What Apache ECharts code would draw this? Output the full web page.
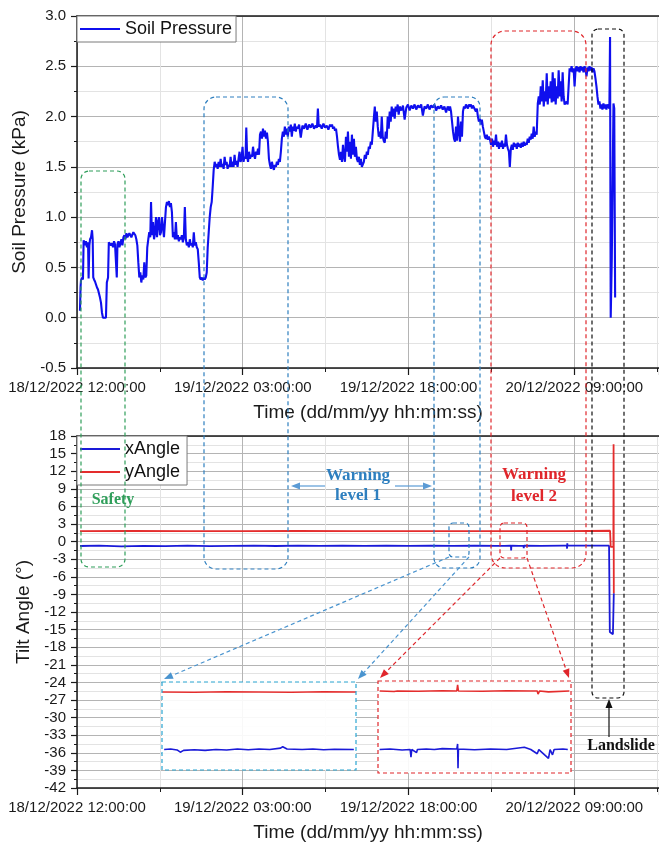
<!DOCTYPE html>
<html><head><meta charset="utf-8">
<script src="https://cdn.jsdelivr.net/npm/echarts@6/dist/echarts.min.js"></script>
<style>html,body{margin:0;padding:0;background:#fff}#c{width:659px;height:848px}</style>
</head><body><div id="c"></div>
<script>
// ---------------- DATA (time in hours since 18/12/2022 12:00:00) ----------------
const timeTickLabels = ['18/12/2022 12:00:00','19/12/2022 03:00:00','19/12/2022 18:00:00','20/12/2022 09:00:00'];
const timeTickStepHours = 15;
const timeAxisMaxHours = 52.67;

const soilPressure = [
 [0.27,0.07],[0.32,0.30],[0.36,0.37],[0.45,0.40],[0.54,0.38],[0.60,0.77],[0.72,0.72],[0.81,0.76],[0.90,0.70],[1.00,0.75],[1.05,0.39],[1.12,0.72],[1.18,0.78],[1.27,0.80],[1.36,0.87],[1.42,0.78],[1.47,0.40],[1.54,0.38],[1.63,0.36],[1.72,0.33],[1.81,0.30],[1.90,0.28],[1.99,0.24],[2.08,0.20],[2.17,0.15],[2.26,0.05],[2.35,0.0],[2.44,0.0],[2.53,0.01],[2.62,0.0],[2.70,0.35],[2.81,0.40],[2.88,0.75],
 [2.99,0.76],[3.08,0.72],[3.17,0.74],[3.26,0.70],[3.35,0.76],[3.44,0.73],[3.53,0.72],[3.60,0.40],[3.66,0.73],[3.75,0.76],[3.84,0.70],[3.93,0.74],[4.02,0.78],[4.11,0.72],[4.20,0.80],[4.29,0.82],[4.38,0.78],[4.47,0.84],[4.56,0.80],[4.74,0.84],[4.92,0.80],[5.10,0.85],[5.28,0.82],[5.37,0.78],[5.46,0.72],[5.55,0.55],[5.64,0.40],[5.73,0.45],[5.82,0.35],[5.91,0.42],[6.00,0.38],[6.09,0.55],[6.18,0.40],[6.27,0.42],[6.36,0.70],[6.45,0.78],[6.54,0.85],
 [6.63,0.80],[6.70,1.15],[6.78,0.82],[6.88,0.95],[6.97,0.78],[7.06,0.85],[7.15,1.00],[7.24,0.80],[7.33,0.95],[7.42,1.00],[7.51,0.82],[7.60,0.85],[7.69,1.00],[7.78,0.90],[7.87,0.80],[7.96,0.95],[8.05,1.10],[8.14,1.15],[8.23,1.12],[8.32,1.16],[8.41,1.10],[8.50,1.14],[8.59,1.05],[8.68,0.80],[8.77,0.85],[8.86,0.78],[8.95,0.95],[9.04,0.78],[9.13,0.82],[9.22,0.76],[9.31,0.80],[9.40,0.78],[9.49,0.82],[9.58,0.75],[9.67,0.80],[9.76,1.10],[9.85,0.78],[9.94,0.72],[10.03,0.75],[10.12,0.70],[10.21,0.78],[10.30,0.72],[10.39,0.74],[10.48,0.70],[10.57,0.85],[10.66,0.72],[10.75,0.75],[10.84,0.70],[10.93,0.68],[11.02,0.55],[11.11,0.40],[11.20,0.38],[11.29,0.40],[11.38,0.37],[11.47,0.40],[11.56,0.38],[11.65,0.40],[11.74,0.45],[11.83,0.70],[11.92,0.85],[12.01,1.00],[12.10,1.10],[12.19,1.15],[12.28,1.30],[12.37,1.47],
 [12.46,1.55],[12.55,1.50],[12.64,1.53],[12.73,1.48],[12.82,1.55],[12.91,1.50],[13.00,1.58],[13.09,1.50],[13.18,1.53],[13.27,1.48],[13.36,1.60],[13.45,1.52],[13.54,1.55],[13.63,1.48],[13.72,1.52],[13.81,1.50],[13.90,1.60],[13.99,1.50],[14.08,1.55],[14.17,1.50],[14.26,1.62],[14.35,1.52],[14.44,1.56],[14.53,1.50],[14.62,1.58],[14.71,1.65],[14.80,1.55],[14.89,1.58],[14.98,1.70],[15.07,1.55],[15.16,1.60],[15.25,1.58],[15.32,1.89],[15.40,1.60],[15.48,1.55],[15.57,1.65],[15.66,1.58],[15.75,1.62],[15.84,1.60],[15.93,1.70],[16.02,1.62],[16.11,1.58],[16.20,1.65],[16.29,1.62],[16.38,1.68],[16.47,1.62],[16.56,1.82],[16.65,1.85],[16.74,1.78],[16.83,1.88],[16.92,1.80],[17.01,1.86],[17.10,1.78],[17.19,1.84],[17.28,1.75],[17.37,1.58],[17.46,1.52],[17.55,1.48],[17.64,1.55],[17.73,1.50],[17.82,1.47],[17.91,1.52],[18.00,1.50],[18.09,1.55],[18.18,1.52],[18.27,1.58],[18.36,1.55],[18.45,1.65],[18.54,1.78],[18.63,1.85],[18.72,1.80],
 [18.81,1.90],[18.90,1.82],[18.99,1.88],[19.08,1.80],[19.17,1.90],[19.26,1.85],[19.35,1.92],[19.44,1.80],[19.53,1.90],[19.62,1.86],[19.71,1.93],[19.80,1.85],[19.89,1.90],[19.98,1.88],[20.10,1.92],[20.25,1.79],[20.40,1.91],[20.55,1.88],[20.70,1.93],[20.85,1.87],[21.00,1.92],[21.15,1.89],[21.30,1.93],[21.45,1.88],[21.60,1.91],[21.72,1.89],[21.80,2.08],[21.88,1.90],[22.00,1.92],[22.15,1.88],[22.30,1.93],[22.45,1.89],[22.60,1.91],[22.75,1.87],[22.90,1.92],[22.99,1.90],[23.08,1.92],[23.17,1.88],[23.26,1.90],[23.35,1.86],[23.44,1.88],[23.53,1.80],
 [23.62,1.70],[23.71,1.62],[23.80,1.57],[23.89,1.65],[23.98,1.55],[24.07,1.72],[24.16,1.60],[24.25,1.55],[24.34,1.80],[24.43,1.65],[24.52,1.85],[24.61,1.60],[24.70,1.75],[24.79,1.58],[24.88,1.82],[24.97,1.62],[25.06,1.78],[25.15,1.60],[25.24,1.70],[25.33,1.58],[25.42,1.55],[25.51,1.60],[25.60,1.52],[25.69,1.58],[25.78,1.50],[25.87,1.49],[25.96,1.55],[26.05,1.62],[26.14,1.58],[26.23,1.65],[26.32,1.62],[26.41,1.70],[26.50,1.68],[26.59,1.75],[26.68,1.72],[26.77,1.85],[26.86,1.98],[26.95,2.10],[27.04,1.95],[27.13,2.05],[27.22,1.90],[27.31,1.80],[27.40,1.85],[27.49,1.78],[27.58,2.00],[27.67,1.80],[27.76,1.76],[27.85,1.74],[27.94,1.85],[28.03,1.78],[28.12,2.00],[28.21,1.88],[28.30,2.05],[28.39,1.95],[28.48,2.10],[28.57,2.00],[28.66,2.08],[28.75,1.98],[28.84,2.10],[28.93,2.05],[29.02,2.12],[29.11,2.02],[29.20,2.10],
 [29.35,2.06],[29.50,2.11],[29.65,1.97],[29.80,2.09],[29.95,2.12],[30.10,2.06],[30.25,2.11],[30.40,2.08],[30.55,2.12],[30.70,2.07],[30.85,2.11],[31.00,2.09],[31.15,2.12],[31.30,2.01],[31.45,2.10],[31.60,2.08],[31.75,2.12],[31.90,2.07],[32.05,2.11],[32.20,2.09],[32.35,2.12],[32.50,2.06],[32.65,2.10],[32.80,2.08],[32.95,2.11],[33.10,2.07],[33.25,2.10],[33.40,2.04],[33.55,2.10],[33.70,2.06],
 [33.76,2.10],[33.85,2.05],[33.94,1.95],[34.03,1.85],[34.12,1.78],[34.21,1.75],[34.30,1.90],[34.39,1.76],[34.48,2.00],[34.57,1.85],[34.66,1.75],[34.75,1.95],[34.84,1.80],[34.93,2.05],[35.02,2.10],[35.11,2.08],[35.20,2.12],[35.29,2.10],[35.38,2.08],[35.47,2.12],[35.56,2.10],[35.65,2.12],[35.74,2.08],[35.83,2.11],[35.92,2.09],[36.01,2.10],[36.10,2.05],[36.19,2.08],[36.28,2.00],[36.37,1.95],[36.46,1.98],[36.55,1.92],[36.64,1.97],[36.73,1.90],[36.82,1.85],[36.91,1.80],[37.00,1.78],[37.09,1.82],[37.18,1.77],[37.27,1.80],
 [37.38,1.77],[37.47,1.72],[37.56,1.78],[37.65,1.70],[37.74,1.76],[37.83,1.72],[37.92,1.82],[38.01,1.70],[38.10,1.75],[38.19,1.68],[38.28,1.74],[38.37,1.70],[38.46,1.76],[38.55,1.68],[38.64,1.73],[38.73,1.70],[38.82,1.82],[38.91,1.72],[39.00,1.68],[39.09,1.65],[39.17,1.50],[39.26,1.68],[39.35,1.72],[39.44,1.67],[39.53,1.74],[39.62,1.70],[39.71,1.73],[39.80,1.68],[39.89,1.74],[39.98,1.70],[40.07,1.73],[40.16,1.69],[40.25,1.74],[40.34,1.70],[40.43,1.75],[40.52,1.71],[40.61,1.74],[40.70,1.72],[40.79,1.78],[40.88,1.74],[40.97,1.80],[41.06,1.77],[41.15,1.83],[41.24,1.78],[41.33,1.90],[41.42,1.80],[41.51,1.85],[41.60,1.82],
 [41.70,2.13],[41.79,2.20],[41.88,2.12],[41.97,2.30],[42.06,2.15],[42.15,2.36],[42.24,2.10],[42.33,2.25],[42.42,2.15],[42.51,2.43],[42.60,2.12],[42.69,2.30],[42.78,2.18],[42.87,2.35],[42.96,2.14],[43.05,2.44],[43.14,2.15],[43.23,2.38],[43.32,2.12],[43.41,2.30],[43.50,2.18],[43.59,2.46],[43.68,2.20],[43.77,2.35],[43.86,2.15],[43.95,2.44],[44.04,2.20],[44.13,2.12],[44.22,2.13],[44.31,2.15],[44.40,2.12],[44.49,2.30],[44.58,2.48],
 [44.67,2.45],[44.76,2.50],[44.85,2.44],[44.94,2.48],[45.03,2.30],[45.12,2.47],[45.21,2.50],[45.30,2.45],[45.39,2.49],[45.48,2.44],[45.57,2.50],[45.66,2.46],[45.75,2.49],[45.84,2.44],[45.93,2.50],[46.02,2.47],[46.11,2.40],[46.20,2.49],[46.29,2.45],[46.38,2.50],[46.47,2.46],[46.56,2.49],[46.65,2.44],[46.74,2.48],[46.83,2.45],[46.92,2.38],[47.01,2.30],[47.10,2.20],[47.19,2.12],
 [47.28,2.15],[47.37,2.08],[47.46,2.12],[47.55,2.07],[47.64,2.13],[47.73,2.08],[47.82,2.12],[47.91,2.07],[48.00,2.12],[48.09,2.10],[48.18,2.08],[48.24,2.79],[48.30,0.0],[48.40,0.6],[48.55,2.13],[48.62,2.08],[48.70,0.20]
];

const xAngle = [
 [0.27,-0.75],[2,-0.7],[4,-0.8],[6,-0.72],[8,-0.78],[10,-0.7],[12,-0.76],[14,-0.72],[16,-0.7],[18,-0.75],[20,-0.7],[22,-0.74],[24,-0.7],[26,-0.72],[28,-0.7],[30,-0.73],[32,-0.7],[34,-0.72],[36,-0.7],[38,-0.72],[38.68,-0.72],[38.71,-1.05],[38.74,-0.7],[39.27,-0.7],[39.29,-1.5],[39.31,-0.7],[40,-0.72],[40.41,-0.72],[40.43,-1.1],[40.45,-0.7],[42,-0.72],[44,-0.7],[44.33,-0.7],[44.35,-1.2],[44.37,-0.3],[44.39,-0.7],[46,-0.7],[48.15,-0.7],[48.22,-15.4],[48.50,-15.8],[48.58,-8.8]
];
const yAngle = [
 [0.27,1.8],[5,1.82],[10,1.78],[15,1.8],[20,1.82],[25,1.8],[30,1.8],[35,1.79],[39.28,1.8],[39.29,2.1],[39.30,1.8],[40.28,1.8],[40.29,1.6],[40.30,1.8],[44.33,1.8],[44.35,2.1],[44.37,1.8],[48.24,1.85],[48.30,-0.9],[48.54,-0.9],[48.56,16.6],[48.58,-8.8]
];

// zoomed details (insets)
const inset1Window = [33.7, 35.5];
const inset1Y = [
 [33.7,1.8],[34.0,1.79],[34.3,1.81],[34.6,1.8],[34.9,1.79],[35.2,1.81],[35.5,1.8]
];
const inset1X = [
 [33.72,-0.72],[33.78,-0.70],[33.84,-0.74],[33.87,-0.84],[33.90,-0.76],[34.0,-0.73],[34.1,-0.76],[34.2,-0.72],[34.3,-0.74],[34.4,-0.70],[34.5,-0.73],[34.6,-0.70],[34.7,-0.72],[34.8,-0.66],[34.82,-0.60],[34.86,-0.70],[35.0,-0.72],[35.1,-0.70],[35.2,-0.73],[35.3,-0.71],[35.48,-0.72]
];
const inset2Window = [38.3, 40.7];
const inset2Y = [
 [38.32,1.8],[38.5,1.78],[38.52,1.74],[38.54,1.8],[38.8,1.79],[39.1,1.81],[39.28,1.8],[39.29,2.06],[39.30,1.8],[39.6,1.79],[39.9,1.81],[40.2,1.8],[40.28,1.8],[40.29,1.67],[40.30,1.75],[40.31,1.8],[40.42,1.76],[40.44,1.8],[40.68,1.8]
];
const inset2X = [
 [38.32,-0.72],[38.45,-0.70],[38.6,-0.74],[38.70,-0.72],[38.71,-1.05],[38.72,-0.72],[38.78,-0.85],[38.79,-0.72],[38.9,-0.70],[39.0,-0.72],[39.1,-0.68],[39.28,-0.70],[39.29,-0.48],[39.295,-1.53],[39.30,-0.70],[39.5,-0.73],[39.7,-0.70],[39.9,-0.72],[40.12,-0.62],[40.14,-0.70],[40.2,-0.72],[40.28,-0.90],[40.30,-0.72],[40.42,-1.10],[40.44,-0.72],[40.47,-0.95],[40.49,-0.72],[40.6,-0.70],[40.66,-0.72]
];

// ---------------- CHART ----------------
const FONT = "'Liberation Sans', Arial, sans-serif";
const SERIF = "'Liberation Serif', 'Times New Roman', serif";
const AX = '#1a1a1a';
const MAJ = '#b4b4b4', MIN = '#e3e3e3';
const BLUE = '#0f0fee', XBLUE = '#1a1ad8', RED = '#e42d2d';

function timeLabel(v){
  const i = Math.round(v / timeTickStepHours);
  if (Math.abs(v - i*timeTickStepHours) > 1e-6) return '';
  return timeTickLabels[i] || '';
}
function mainX(gridIndex){
  return {
    type:'value', gridIndex, min:0, max:timeAxisMaxHours, interval:timeTickStepHours, position:'bottom',
    axisLine:{show:true, onZero:false, lineStyle:{color:AX, width:1.5}},
    axisTick:{show:true, inside:false, length:7, lineStyle:{color:AX, width:1.2}},
    minorTick:{show:true, splitNumber:2, length:4, lineStyle:{color:AX, width:1}},
    splitLine:{show:true, lineStyle:{color:MAJ, width:1}},
    minorSplitLine:{show:true, lineStyle:{color:MIN, width:1}},
    axisLabel:{formatter:timeLabel, margin:12, fontSize:15, color:AX, fontFamily:FONT, showMaxLabel:false, showMinLabel:true},
    name:'Time (dd/mm/yy hh:mm:ss)', nameLocation:'middle', nameGap:35,
    nameTextStyle:{fontSize:19, color:AX, fontFamily:FONT}
  };
}
function frameX(gridIndex){
  return {type:'value', gridIndex, position:'top', min:0, max:timeAxisMaxHours,
    axisLine:{show:true, onZero:false, lineStyle:{color:AX, width:1.5}},
    axisTick:{show:false}, axisLabel:{show:false}, splitLine:{show:false}};
}
function mainY(gridIndex, min, max, interval, name, fmt){
  return {
    type:'value', gridIndex, min, max, interval,
    axisLine:{show:true, onZero:false, lineStyle:{color:AX, width:1.5}},
    axisTick:{show:true, inside:false, length:6, lineStyle:{color:AX, width:1.2}},
    minorTick:{show:true, splitNumber:2, length:3, lineStyle:{color:AX, width:1}},
    splitLine:{show:true, lineStyle:{color:MAJ, width:1}},
    minorSplitLine:{show:true, lineStyle:{color:MIN, width:1}},
    axisLabel:{formatter:fmt, margin:11, fontSize:15, color:AX, fontFamily:FONT},
    name, nameLocation:'middle', nameGap:42, nameRotate:90,
    nameTextStyle:{fontSize:19, color:AX, fontFamily:FONT}
  };
}
function hiddenX(gridIndex, w){ return {type:'value', gridIndex, min:w[0], max:w[1], show:false}; }
function hiddenY(gridIndex, min, max){ return {type:'value', gridIndex, min, max, show:false}; }

const DASH = [4,3];
function rrect(x,y,w,h,r,color){
  return {type:'rect', z:100, silent:true, shape:{x,y,width:w,height:h,r},
    style:{fill:null, stroke:color, lineWidth:1.2, lineDash:DASH}};
}
function arrow(x1,y1,x2,y2,color,dashed){
  const a = Math.atan2(y2-y1, x2-x1), L = 9, W = 3.5;
  const bx = x2 - L*Math.cos(a), by = y2 - L*Math.sin(a);
  const px = -Math.sin(a)*W, py = Math.cos(a)*W;
  return [
    {type:'line', z:100, silent:true, shape:{x1,y1,x2:bx,y2:by}, style:{stroke:color, lineWidth:1.2, lineDash:dashed?DASH:null}},
    {type:'polygon', z:100, silent:true, shape:{points:[[x2,y2],[bx+px,by+py],[bx-px,by-py]]}, style:{fill:color}}
  ];
}
function txt(x,y,s,color,size){
  return {type:'text', z:101, silent:true, x, y,
    style:{text:s, fill:color, font:'bold '+size+'px '+SERIF, textAlign:'center', textVerticalAlign:'middle', verticalAlign:'middle'}};
}

const GREEN = '#2f9e5a', LBLUE = '#2e7fbf', CYAN = '#2aa6d2', ARED = '#e0262b', BLK = '#111';
const graphics = [].concat(
  rrect(81,171,44,396,8,GREEN),
  rrect(204,97,84,472,12,LBLUE),
  rrect(434,97,46,471,10,LBLUE),
  rrect(491,31,95,537,14,ARED),
  rrect(592,29,32,669,6,BLK),
  rrect(449,523,20,34,4,LBLUE),
  rrect(500,523,27,35,4,ARED),
  rrect(162,682,194,88,0,CYAN),
  rrect(378,681,193,92,0,ARED),
  arrow(449,557,164,679,'#4a94cf',true),
  arrow(469,557,358,679,'#4a94cf',true),
  arrow(500,558,380,678,ARED,true),
  arrow(527,558,569,678,ARED,true),
  arrow(325,486,291,486,'#5b9bd5',false),
  arrow(395,486,432,486,'#5b9bd5',false),
  arrow(609,737,609,699,BLK,false),
  txt(113,500,'Safety',GREEN,16),
  txt(358,476,'Warning',LBLUE,17),
  txt(358,496,'level 1',LBLUE,17),
  txt(534,475,'Warning',ARED,17),
  txt(534,497,'level 2',ARED,17),
  txt(621,746,'Landslide',BLK,16)
);

function line(name, xi, yi, data, color, width){
  return {name, type:'line', xAxisIndex:xi, yAxisIndex:yi, data, symbol:'none', showSymbol:false,
    lineStyle:{color, width}, itemStyle:{color}, emphasis:{disabled:true}, silent:true};
}

const chart = echarts.init(document.getElementById('c'), null, {renderer:'canvas'});
chart.setOption({
  animation:false,
  backgroundColor:'#fff',
  textStyle:{fontFamily:FONT},
  grid:[
    {left:77, top:16, right:0, height:352, outerBoundsMode:'none'},
    {left:77, top:436, right:0, height:352, outerBoundsMode:'none'},
    {left:162, top:682, width:194, height:88, show:true, backgroundColor:'rgba(255,255,255,0.9)', borderWidth:0, z:1, outerBoundsMode:'none'},
    {left:378, top:681, width:193, height:92, show:true, backgroundColor:'rgba(255,255,255,0.9)', borderWidth:0, z:1, outerBoundsMode:'none'}
  ],
  xAxis:[ mainX(0), frameX(0), mainX(1), frameX(1), hiddenX(2, inset1Window), hiddenX(3, inset2Window) ],
  yAxis:[
    mainY(0, -0.5, 3.0, 0.5, 'Soil Pressure (kPa)', v => v.toFixed(1)),
    mainY(1, -42, 18, 3, 'Tilt Angle (°)', v => String(Math.round(v))),
    hiddenY(2, -1.62, 2.24),
    hiddenY(3, -1.73, 2.23)
  ],
  legend:[
    {data:['Soil Pressure'], left:77, top:16, orient:'vertical', icon:'rect', itemWidth:40, itemHeight:2, itemGap:5,
     padding:[4,4,4,3], backgroundColor:'#fff', borderColor:'#7a7a7a', borderWidth:1, selectedMode:false,
     textStyle:{fontSize:18, color:'#111', fontFamily:FONT}},
    {data:['xAngle','yAngle'], left:77, top:436, orient:'vertical', icon:'rect', itemWidth:40, itemHeight:2, itemGap:5,
     padding:[4,7,4,3], backgroundColor:'#fff', borderColor:'#7a7a7a', borderWidth:1, selectedMode:false,
     textStyle:{fontSize:18, color:'#111', fontFamily:FONT}}
  ],
  series:[
    line('Soil Pressure', 0, 0, soilPressure, BLUE, 2.1),
    line('xAngle', 2, 1, xAngle, XBLUE, 1.8),
    line('yAngle', 2, 1, yAngle, RED, 1.8),
    line('', 4, 2, inset1Y, RED, 1.6),
    line('', 4, 2, inset1X, XBLUE, 1.6),
    line('', 5, 3, inset2Y, RED, 1.6),
    line('', 5, 3, inset2X, XBLUE, 1.6)
  ],
  graphic:{elements:graphics}
});
</script>
</body></html>
